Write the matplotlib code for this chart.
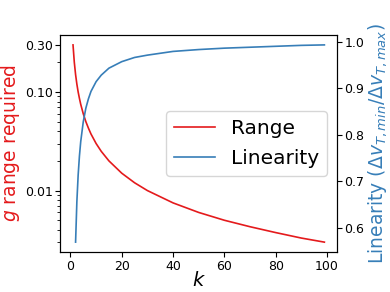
import matplotlib
matplotlib.use('Agg')
import matplotlib.pyplot as plt

# values
k_range = [1, 1.5, 2, 2.5, 3, 3.5, 4, 5, 6, 7, 8, 10, 12, 15, 20, 25, 30, 40, 50, 60, 70, 80, 90, 99]
g_range = [0.30, 0.20, 0.15, 0.12, 0.10, 0.086, 0.075, 0.060, 0.050, 0.043, 0.0375, 0.030, 0.025,
           0.020, 0.015, 0.012, 0.010, 0.0075, 0.0060, 0.0050, 0.0043, 0.00375, 0.0033, 0.0030]

k_lin = [2, 2.5, 3, 3.5, 4, 5, 6, 7, 8, 10, 12, 15, 20, 25, 30, 40, 50, 60, 70, 80, 90, 99]
linearity = [0.569, 0.656, 0.713, 0.754, 0.785, 0.828, 0.857, 0.877, 0.893, 0.914, 0.928, 0.943,
             0.957, 0.966, 0.971, 0.979, 0.983, 0.986, 0.988, 0.990, 0.992, 0.993]

red = '#e41a1c'
blue = '#377eb8'

fig, ax = plt.subplots(figsize=(3.9, 2.92), dpi=100)
fig.subplots_adjust(left=0.155, right=0.864, bottom=0.137, top=0.880)

l1, = ax.plot(k_range, g_range, color=red, lw=1.2, label='Range')
ax.set_yscale('log')
ax.set_yticks([0.01, 0.1, 0.3])
ax.set_yticklabels(['0.01', '0.10', '0.30'])
ax.set_ylabel(r'$g$ range required', color=red, fontsize=13.5, labelpad=2)
ax.set_xlabel(r'$k$', fontsize=14, labelpad=-1)
ax.set_xticks([0, 20, 40, 60, 80, 100])
ax.tick_params(labelsize=9, pad=2)

ax2 = ax.twinx()
l2, = ax2.plot(k_lin, linearity, color=blue, lw=1.2, label='Linearity')
ax2.set_yticks([0.6, 0.7, 0.8, 0.9, 1.0])
ax2.set_ylabel(r'Linearity ($\Delta v_{T,min}/\Delta v_{T,max}$)', color=blue, fontsize=13.5, labelpad=1)
ax2.tick_params(labelsize=9, pad=2)

ax2.legend(handles=[l1, l2], loc='center right', fontsize=14.5)

fig.savefig('out.png', dpi=100)
